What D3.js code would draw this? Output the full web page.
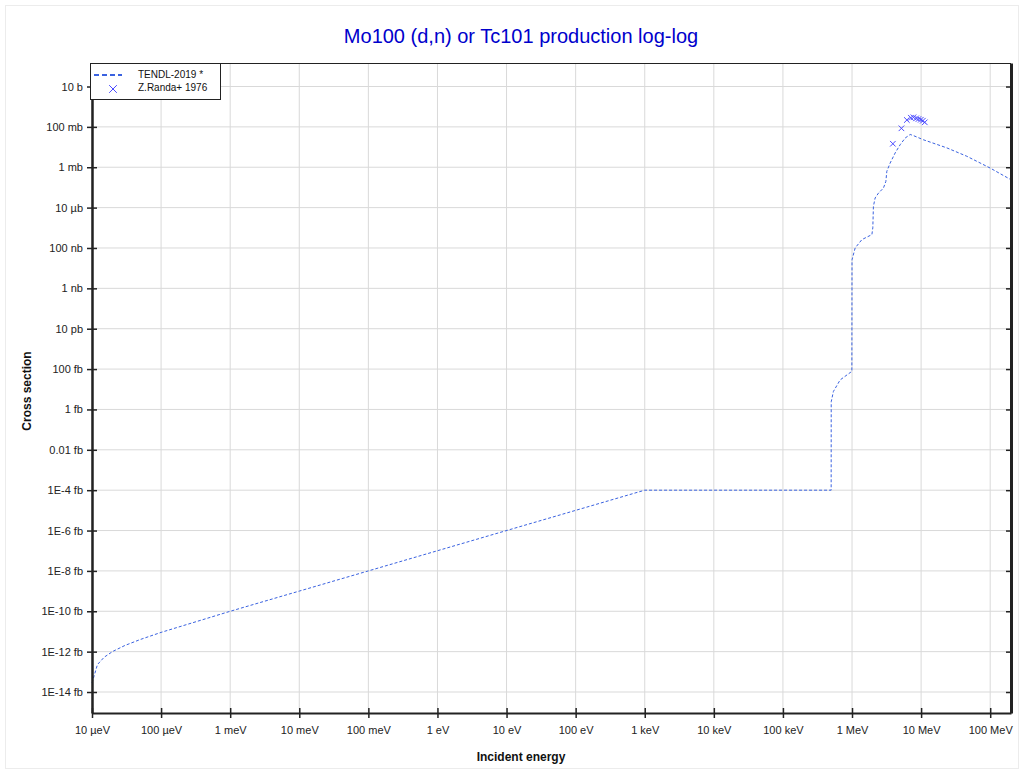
<!DOCTYPE html>
<html>
<head>
<meta charset="utf-8">
<script src="https://cdn.jsdelivr.net/npm/d3@7"></script>
<style>
  html, body { margin: 0; padding: 0; background: #fff; }
  svg { display: block; font-family: "Liberation Sans", Arial, sans-serif; }
</style>
</head>
<body>
<svg id="chart" width="1024" height="773"></svg>
<script>
// ---- Data (energy in eV, cross section in barns) ----
const tendlEnergy = [1e-5, 1.2e-5, 1.5e-5, 2e-5, 3e-5, 5e-5, 1e-4, 1e-3, 1e-2, 1e3,
  4.99e5, 5.0e5, 5.38e5, 6.73e5, 9.4e5, 9.95e5, 1.0e6, 1.11e6, 1.39e6, 1.94e6, 2.0e6,
  2.04e6, 2.16e6, 2.42e6, 2.85e6, 3.09e6, 3.19e6, 3.56e6, 4.21e6, 4.97e6, 5.88e6,
  6.94e6, 7.74e6, 1.08e7, 2.36e7, 4.59e7, 1e8, 2e8];
const tendlXS = [2.8e-29, 2.3e-28, 5.3e-28, 1.03e-27, 2.03e-27, 4.0e-27, 9.0e-27, 1e-25, 1e-24, 1e-19,
  1e-19, 2.4e-15, 7.8e-15, 2.9e-14, 6.7e-14, 7.5e-14, 2.6e-8, 1e-7, 2.6e-7, 4.6e-7, 1.0e-6,
  1.15e-5, 3.0e-5, 5.3e-5, 9.3e-5, 2.0e-4, 6.3e-4, 1.6e-3, 5.1e-3, 1.3e-2, 2.8e-2,
  4.2e-2, 3.7e-2, 2.3e-2, 9.1e-3, 3.5e-3, 9.1e-4, 2.4e-4];

const randaEnergy = [3.90e6, 5.19e6, 6.22e6, 7.11e6, 7.75e6, 8.48e6, 9.16e6, 9.9e6, 1.06e7, 1.13e7];
const randaXS = [0.0146, 0.085, 0.219, 0.284, 0.298, 0.265, 0.245, 0.226, 0.202, 0.168];

const xTickValues = [1e-5, 1e-4, 1e-3, 1e-2, 1e-1, 1, 10, 100, 1e3, 1e4, 1e5, 1e6, 1e7, 1e8];
const xTickLabels = ["10 µeV", "100 µeV", "1 meV", "10 meV", "100 meV", "1 eV", "10 eV", "100 eV",
  "1 keV", "10 keV", "100 keV", "1 MeV", "10 MeV", "100 MeV"];
const yTickValues = [10, 0.1, 1e-3, 1e-5, 1e-7, 1e-9, 1e-11, 1e-13, 1e-15, 1e-17, 1e-19, 1e-21,
  1e-23, 1e-25, 1e-27, 1e-29];
const yTickLabels = ["10 b", "100 mb", "1 mb", "10 µb", "100 nb", "1 nb", "10 pb", "100 fb", "1 fb",
  "0.01 fb", "1E-4 fb", "1E-6 fb", "1E-8 fb", "1E-10 fb", "1E-12 fb", "1E-14 fb"];

const seriesNames = ["TENDL-2019 *", "Z.Randa+ 1976"];
const titleText = "Mo100 (d,n) or Tc101 production log-log";

// ---- Layout ----
const plot = { left: 92, right: 1011, top: 63, bottom: 713 };
const lineColor = "#3a62e0";
const markColor = "#4a4aff";

const svg = d3.select("#chart");

// faint outer frame
svg.append("rect").attr("x", 5.5).attr("y", 5.5).attr("width", 1013).attr("height", 763)
  .attr("fill", "none").attr("stroke", "#ececec");

const x = d3.scaleLog().domain([1e-5, 2e8]).range([plot.left, plot.right]);
const y = d3.scaleLog().domain([Math.pow(10, -30.04), Math.pow(10, 2.165)]).range([plot.bottom, plot.top]);

// grid
const g = svg.append("g");
g.selectAll(".xg").data(xTickValues).join("line")
  .attr("x1", d => x(d)).attr("x2", d => x(d))
  .attr("y1", plot.top).attr("y2", plot.bottom)
  .attr("stroke", "#d9d9d9").attr("stroke-width", 1);
g.selectAll(".yg").data(yTickValues).join("line")
  .attr("x1", plot.left).attr("x2", plot.right)
  .attr("y1", d => y(d)).attr("y2", d => y(d))
  .attr("stroke", "#d9d9d9").attr("stroke-width", 1);

// data line
const pts = tendlEnergy.map((e, i) => [e, tendlXS[i]]);
const line = d3.line().x(d => x(d[0])).y(d => y(d[1]));
svg.append("path").datum(pts)
  .attr("d", line).attr("fill", "none")
  .attr("stroke", lineColor).attr("stroke-width", 1)
  .attr("stroke-dasharray", "3,2");

// experimental crosses
const cross = d3.symbol().type(d3.symbolX).size(22);
svg.selectAll(".randa").data(randaEnergy.map((e, i) => [e, randaXS[i]])).join("path")
  .attr("d", cross)
  .attr("transform", d => `translate(${x(d[0])},${y(d[1])})`)
  .attr("fill", "none").attr("stroke", markColor).attr("stroke-width", 1);

// frame: top thin, right/left/bottom dark
svg.append("line").attr("x1", plot.left).attr("x2", plot.right).attr("y1", plot.top + 0.5).attr("y2", plot.top + 0.5)
  .attr("stroke", "#222").attr("stroke-width", 1);

// axes
const xAxis = d3.axisBottom(x).tickValues(xTickValues)
  .tickFormat((d, i) => xTickLabels[i]).tickSizeInner(5).tickSizeOuter(0).tickPadding(8);
const xg = svg.append("g").attr("transform", `translate(0,${plot.bottom})`).call(xAxis);
xg.select(".domain").attr("stroke", "#222").attr("stroke-width", 2);
xg.selectAll(".tick line").attr("y1", -5).attr("y2", 5).attr("stroke", "#222").attr("stroke-width", 1.5);
xg.selectAll(".tick text").attr("font-size", 11).attr("fill", "#222")
  .attr("font-family", "'Liberation Sans', Arial, sans-serif");

const yAxis = d3.axisLeft(y).tickValues(yTickValues)
  .tickFormat((d, i) => yTickLabels[i]).tickSizeInner(5).tickSizeOuter(0).tickPadding(4);
const yg = svg.append("g").attr("transform", `translate(${plot.left},0)`).call(yAxis);
yg.select(".domain").attr("stroke", "#222").attr("stroke-width", 2.5);
yg.selectAll(".tick line").attr("x1", -5).attr("x2", 5).attr("stroke", "#222").attr("stroke-width", 1.5);
yg.selectAll(".tick text").attr("font-size", 11).attr("fill", "#222")
  .attr("font-family", "'Liberation Sans', Arial, sans-serif");

const yAxisR = d3.axisRight(y).tickValues(yTickValues).tickFormat("").tickSizeInner(0).tickSizeOuter(0);
const yr = svg.append("g").attr("transform", `translate(${plot.right},0)`).call(yAxisR);
yr.select(".domain").attr("stroke", "#222").attr("stroke-width", 3);
yr.selectAll(".tick line").attr("x1", -5).attr("x2", 0).attr("stroke", "#222").attr("stroke-width", 1.5);

// title
svg.append("text").attr("x", 521).attr("y", 43).attr("text-anchor", "middle")
  .attr("font-size", 20).attr("fill", "#0000cc").text(titleText);

// axis titles
svg.append("text").attr("x", 521).attr("y", 761).attr("text-anchor", "middle")
  .attr("font-size", 12).attr("font-weight", "bold").attr("fill", "#111").text("Incident energy");
svg.append("text").attr("transform", "translate(31,391) rotate(-90)").attr("text-anchor", "middle")
  .attr("font-size", 12).attr("font-weight", "bold").attr("fill", "#111").text("Cross section");

// legend
const lg = svg.append("g");
lg.append("rect").attr("x", 90.5).attr("y", 63.5).attr("width", 130).attr("height", 36)
  .attr("fill", "#fff").attr("stroke", "#222").attr("stroke-width", 1);
lg.append("line").attr("x1", 94).attr("x2", 122).attr("y1", 75).attr("y2", 75)
  .attr("stroke", lineColor).attr("stroke-width", 2).attr("stroke-dasharray", "5,3");
lg.append("path").attr("d", d3.symbol().type(d3.symbolX).size(40))
  .attr("transform", "translate(113,89)").attr("fill", "none").attr("stroke", markColor).attr("stroke-width", 1);
lg.selectAll(".lt").data(seriesNames).join("text")
  .attr("x", 138).attr("y", (d, i) => 78 + i * 13)
  .attr("font-size", 10).attr("fill", "#111").text(d => d);
</script>
</body>
</html>
